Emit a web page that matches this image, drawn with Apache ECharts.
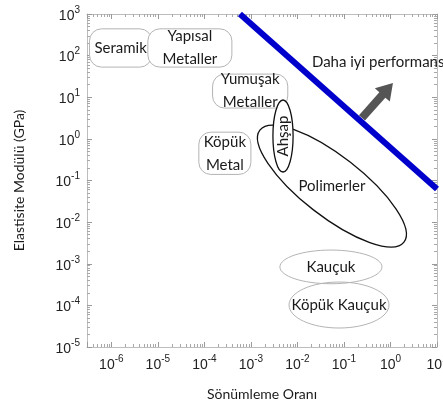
<!DOCTYPE html>
<html>
<head>
<meta charset="utf-8">
<script src="https://cdn.jsdelivr.net/npm/echarts@6/dist/echarts.min.js"></script>
<style>
html, body { margin: 0; padding: 0; background: #fff; }
#chart { width: 443px; height: 408px; }
</style>
</head>
<body>
<div id="chart"></div>
<script>
// axis ranges (damping ratio / elastic modulus in GPa)
var lossRange = [3e-7, 10];
var modRange = [1e-5, 1e3];

// material families drawn as boxes
var boxNames = ['Seramik', 'Yapısal\nMetaller', 'Yumuşak\nMetaller', 'Köpük\nMetal'];
var boxLossMin = [3.4e-7, 6.1e-6, 1.5e-4, 7.6e-5];
var boxLossMax = [7.4e-6, 3.9e-4, 6.2e-3, 1.0e-3];
var boxModMin = [53, 53, 5.5, 0.14];
var boxModMax = [440, 440, 36, 1.45];

// material families drawn as ellipses (tips of the long axis)
var ellNames = ['Polimerler', 'Kauçuk', 'Köpük Kauçuk', 'Ahşap'];
var ellLossA = [1.56e-3, 4.2e-3, 6.6e-3, 4.9e-3];
var ellModA = [1.63, 8.4e-4, 1.02e-4, 8.6];
var ellLossB = [1.95, 0.656, 0.93, 4.9e-3];
var ellModB = [3.3e-3, 8.4e-4, 1.02e-4, 0.16];
var ellRatio = [0.33, 0.33, 0.46, 0.28];

// performance limit line + arrow
var limitLoss = [5.8e-4, 10];
var limitMod = [1000, 0.0625];
var arrowLoss = [0.244, 1.13];
var arrowMod = [3.18, 22];
var noteText = 'Daha iyi performans';
var noteLoss = 0.0205;
var noteMod = 70;

var labelFont = 'Lato';
var textColor = '#1a1a1a';
var ellStroke = ['#111', '#b4b4b4', '#b4b4b4', '#111'];
var ellLine = [1.3, 1, 1, 1.3];
var ellFill = [null, null, null, '#fff'];

function supLabel(v) {
    var e = Math.round(Math.log(v) / Math.LN10);
    return '{b|10}{s|' + e + '}';
}
var tickRich = {
    b: { fontSize: 14, fontFamily: 'Liberation Sans', color: '#222', verticalAlign: 'bottom', padding: [4, 0, 0, 0] },
    s: { fontSize: 10, fontFamily: 'Liberation Sans', color: '#222', verticalAlign: 'top' }
};

function makeAxis(range, pos, showLabel) {
    return {
        type: 'log',
        logBase: 10,
        min: range[0],
        max: range[1],
        position: pos,
        axisLine: { show: true, lineStyle: { color: '#bdbdbd', width: 1 } },
        axisTick: { show: true, inside: true, length: 5, lineStyle: { color: '#9a9a9a' } },
        minorTick: { show: true, splitNumber: 9, length: 3, lineStyle: { color: '#a8a8a8' } },
        splitLine: { show: false },
        minorSplitLine: { show: false },
        axisLabel: {
            show: showLabel,
            showMinLabel: pos === 'bottom' ? false : true,
            margin: 7,
            formatter: supLabel,
            rich: tickRich
        }
    };
}

var boxData = [];
for (var i = 0; i < boxNames.length; i++) {
    boxData.push([boxLossMin[i], boxModMin[i], boxLossMax[i], boxModMax[i]]);
}
var ellData = [];
for (var j = 0; j < ellNames.length; j++) {
    ellData.push([ellLossA[j], ellModA[j], ellLossB[j], ellModB[j]]);
}

function renderBox(params, api) {
    var p0 = api.coord([api.value(0), api.value(3)]);
    var p1 = api.coord([api.value(2), api.value(1)]);
    var k = params.dataIndex;
    return {
        type: 'group',
        children: [{
            type: 'rect',
            shape: { x: p0[0], y: p0[1], width: p1[0] - p0[0], height: p1[1] - p0[1], r: 12 },
            style: { fill: '#fff', stroke: '#b4b4b4', lineWidth: 1 }
        }, {
            type: 'text',
            style: {
                text: boxNames[k], x: (p0[0] + p1[0]) / 2, y: (p0[1] + p1[1]) / 2,
                align: 'center', verticalAlign: 'middle',
                fontFamily: labelFont, fontSize: 15, lineHeight: 23, fill: textColor
            }
        }]
    };
}

function renderEllipse(params, api) {
    var a = api.coord([api.value(0), api.value(1)]);
    var b = api.coord([api.value(2), api.value(3)]);
    var k = params.dataIndex;
    var cx = (a[0] + b[0]) / 2, cy = (a[1] + b[1]) / 2;
    var dx = b[0] - a[0], dy = b[1] - a[1];
    var rx = Math.sqrt(dx * dx + dy * dy) / 2;
    var ang = Math.atan2(dy, dx);
    var vertical = Math.abs(dx) < 1;
    return {
        type: 'group',
        children: [{
            type: 'ellipse',
            x: cx, y: cy, rotation: -ang,
            shape: { cx: 0, cy: 0, rx: rx, ry: rx * ellRatio[k] },
            style: { fill: ellFill[k], stroke: ellStroke[k], lineWidth: ellLine[k] }
        }, {
            type: 'text',
            x: cx, y: cy, rotation: vertical ? Math.PI / 2 : 0,
            style: {
                text: ellNames[k], x: 0, y: 0, align: 'center', verticalAlign: 'middle',
                fontFamily: labelFont, fontSize: 15, fill: textColor
            }
        }]
    };
}

function renderArrow(params, api) {
    var t = api.coord([arrowLoss[0], arrowMod[0]]);
    var h = api.coord([arrowLoss[1], arrowMod[1]]);
    var dx = h[0] - t[0], dy = h[1] - t[1];
    var len = Math.sqrt(dx * dx + dy * dy);
    var ux = dx / len, uy = dy / len, nx = -uy, ny = ux;
    var sw = 4, hw = 10, hl = 16;
    var bx = h[0] - ux * hl, by = h[1] - uy * hl;
    return {
        type: 'polygon',
        shape: { points: [
            [t[0] + nx * sw, t[1] + ny * sw], [bx + nx * sw, by + ny * sw], [bx + nx * hw, by + ny * hw],
            [h[0], h[1]],
            [bx - nx * hw, by - ny * hw], [bx - nx * sw, by - ny * sw], [t[0] - nx * sw, t[1] - ny * sw]
        ] },
        style: { fill: '#555' }
    };
}

function renderNote(params, api) {
    var p = api.coord([api.value(0), api.value(1)]);
    return {
        type: 'text',
        style: {
            text: noteText, x: p[0], y: p[1], align: 'left', verticalAlign: 'middle',
            fontFamily: labelFont, fontSize: 15, fill: textColor
        }
    };
}

var chart = echarts.init(document.getElementById('chart'));
var option = {
    animation: false,
    backgroundColor: '#fff',
    grid: { left: 87, right: 6, top: 14, bottom: 61, containLabel: false, outerBoundsMode: 'none' },
    xAxis: [
        Object.assign(makeAxis(lossRange, 'bottom', true), {
            name: 'Sönümleme Oranı', nameLocation: 'middle', nameGap: 40,
            nameTextStyle: { fontFamily: labelFont, fontSize: 14, color: textColor }
        }),
        makeAxis(lossRange, 'top', false)
    ],
    yAxis: [
        Object.assign(makeAxis(modRange, 'left', true), {
            name: 'Elastisite Modülü (GPa)', nameLocation: 'middle', nameGap: 61,
            nameTextStyle: { fontFamily: labelFont, fontSize: 14, color: textColor }
        }),
        makeAxis(modRange, 'right', false)
    ],
    series: [{
        type: 'custom',
        renderItem: renderBox,
        data: boxData,
        silent: true
    }, {
        type: 'custom',
        renderItem: renderEllipse,
        data: ellData,
        silent: true
    }, {
        type: 'custom',
        renderItem: renderArrow,
        data: [[arrowLoss[0], arrowMod[0]]],
        silent: true
    }, {
        type: 'line',
        data: [[limitLoss[0], limitMod[0]], [limitLoss[1], limitMod[1]]],
        symbol: 'none',
        lineStyle: { color: '#0000cc', width: 6 },
        silent: true
    }, {
        type: 'custom',
        renderItem: renderNote,
        data: [[noteLoss, noteMod]],
        clip: false,
        silent: true
    }]
};
chart.setOption(option);
</script>
</body>
</html>
